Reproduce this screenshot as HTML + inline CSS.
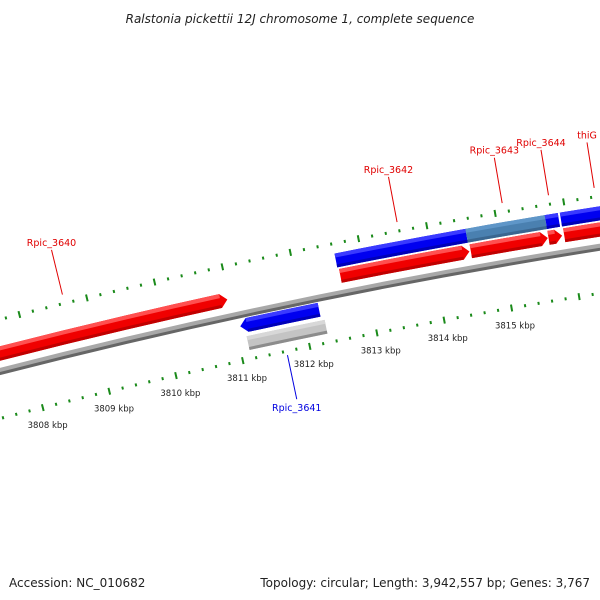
<!DOCTYPE html>
<html><head><meta charset="utf-8"><style>
html,body{margin:0;padding:0;background:#fff;}
svg{display:block;font-family:"DejaVu Sans","Liberation Sans",sans-serif;}
</style></head><body>
<svg id="map" width="600" height="600" viewBox="0 0 600 600">
<text x="300" y="23" text-anchor="middle" font-size="12" font-style="italic" fill="#222">Ralstonia pickettii 12J chromosome 1, complete sequence</text>
<text x="9" y="587" font-size="12" fill="#222">Accession: NC_010682</text>
<text x="590" y="587" text-anchor="end" font-size="12" fill="#222">Topology: circular; Length: 3,942,557 bp; Genes: 3,767</text>
<g id="layer"></g>
</svg>
<script>
// data (kbp)
const geneNames  = ["Rpic_3640","Rpic_3641","Rpic_3642","Rpic_3643","Rpic_3644","thiG"];
const geneStart  = [3806.37, 3811.07, 3812.64, 3814.56, 3815.70, 3815.93];
const geneEnd    = [3810.97, 3812.24, 3814.54, 3815.69, 3815.90, 3817.00];
const geneStrand = [1, -1, 1, 1, 1, 1];
const featStart  = [3812.62, 3814.54, 3815.70, 3815.92];
const featEnd    = [3814.54, 3815.70, 3815.89, 3817.20];
const featKind   = ["blue","steel","blue","blue"];
const grayStart  = [3811.13];
const grayEnd    = [3812.29];
const tickLabels = [3808,3809,3810,3811,3812,3813,3814,3815];

const NS="http://www.w3.org/2000/svg";
const layer=document.getElementById('layer');
const cx=1613, cy=6645;
function ang(k){return (-14.13+0.61*(k-3808))*Math.PI/180;}
function P(k,r){const t=ang(k);return [cx+r*Math.sin(t), cy-r*Math.cos(t)];}
function f(p){return p[0].toFixed(2)+" "+p[1].toFixed(2);}
function mk(tag){const e=document.createElementNS(NS,tag);layer.appendChild(e);return e;}
function band(k1,k2,r1,r2){
  return "M"+f(P(k1,r2))+" A"+r2+" "+r2+" 0 0 1 "+f(P(k2,r2))+" L"+f(P(k2,r1))+" A"+r1+" "+r1+" 0 0 0 "+f(P(k1,r1))+" Z";
}
function arrow(k1,k2,r1,r2,dir){
  const tl=0.1, rm=(r1+r2)/2;
  if(dir>0){
    return "M"+f(P(k1,r2))+" A"+r2+" "+r2+" 0 0 1 "+f(P(k2-tl,r2))+" L"+f(P(k2,rm))+" L"+f(P(k2-tl,r1))+" A"+r1+" "+r1+" 0 0 0 "+f(P(k1,r1))+" Z";
  }
  return "M"+f(P(k1+tl,r2))+" A"+r2+" "+r2+" 0 0 1 "+f(P(k2,r2))+" L"+f(P(k2,r1))+" A"+r1+" "+r1+" 0 0 0 "+f(P(k1+tl,r1))+" L"+f(P(k1,rm))+" Z";
}
function shaded(d,k1,k2,r1,r2,main,hi,lo,name){
  const a=mk('path');a.setAttribute('d',d);a.setAttribute('fill',main);
  
  
  const h=mk('path');h.setAttribute('d',band(k1,k2,r2-4,r2));h.setAttribute('fill',hi);
  
  
  const l=mk('path');l.setAttribute('d',band(k1,k2,r1,r1+3));l.setAttribute('fill',lo);
  
  
}

// backbone
(function(){
  const b=mk('path');b.setAttribute('d',band(3805,3818,6475,6481));b.setAttribute('fill','#a8a8a8');
  
  
  const s=mk('path');s.setAttribute('d',band(3805,3818,6474,6477));s.setAttribute('fill','#666');
  
  
})();

// ticks
function tickRow(rc,name){
  for(let i=0;i<=65;i++){
    const k=3805+i*0.2, major=(i%5===0);
    const len=major?3.5:1.5;
    const a=P(k,rc-len), b=P(k,rc+len);
    const t=mk('line');
    t.setAttribute('x1',a[0]);t.setAttribute('y1',a[1]);t.setAttribute('x2',b[0]);t.setAttribute('y2',b[1]);
    t.setAttribute('stroke','#1a8a1a');t.setAttribute('stroke-width','2');
    
    
  }
}
tickRow(6528,'outer-ruler');
tickRow(6432,'inner-ruler');
tickLabels.forEach(k=>{
  const p=P(k,6412);
  const t=mk('text');t.setAttribute('x',p[0]);t.setAttribute('y',p[1]+1);
  t.setAttribute('text-anchor','middle');t.setAttribute('font-size','8.5');t.setAttribute('fill','#222');
  t.textContent=k+" kbp";
  
  
});

// upper features
featStart.forEach((s,i)=>{
  const e=featEnd[i];
  if(featKind[i]==='steel') shaded(band(s,e,6504,6518),s,e,6504,6518,'#4a80b0','#5f96c8','#3a6690','feature-steel');
  else shaded(band(s,e,6504,6518),s,e,6504,6518,'#0000f0','#3a3aff','#0000b8','feature-blue');
});
// gray feature
grayStart.forEach((s,i)=>{
  shaded(band(s,grayEnd[i],6441,6455),s,grayEnd[i],6441,6455,'#c4c4c4','#d8d8d8','#8c8c8c','feature-gray');
});
// genes
geneNames.forEach((n,i)=>{
  const s=geneStart[i], e=geneEnd[i], d=geneStrand[i];
  if(d>0){
    shaded(arrow(s,e,6488,6502,1),s,e-0.1,6488,6502,'#f00000','#ff5050','#c00000','gene-'+n);
  } else {
    shaded(arrow(s,e,6459,6473,-1),s+0.1,e,6459,6473,'#0000f0','#3a3aff','#0000b8','gene-'+n);
  }
  const km=(s+e)/2;
  const col=d>0?'#e00000':'#0000e0';
  const a=d>0?P(km,6537):P(km,6428), b=d>0?P(km,6583):P(km,6383);
  const ln=mk('line');
  ln.setAttribute('x1',a[0]);ln.setAttribute('y1',a[1]);ln.setAttribute('x2',b[0]);ln.setAttribute('y2',b[1]);
  ln.setAttribute('stroke',col);ln.setAttribute('stroke-width','1');
  
  
  const t=mk('text');
  t.setAttribute('x',b[0]);t.setAttribute('y',d>0?b[1]-4:b[1]+12);
  t.setAttribute('text-anchor','middle');t.setAttribute('font-size','9.5');t.setAttribute('fill',col);
  t.textContent=n;
  
  
});
</script>
</body></html>
